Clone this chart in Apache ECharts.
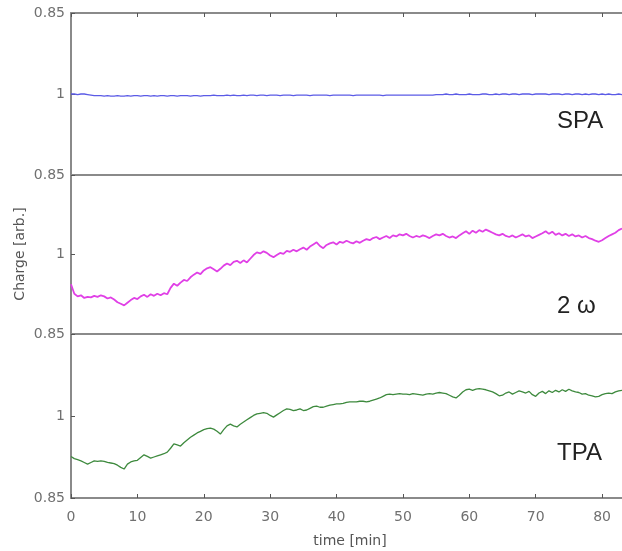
<!DOCTYPE html>
<html><head><meta charset="utf-8">
<script src="https://cdn.jsdelivr.net/npm/echarts@6/dist/echarts.min.js"></script>
<style>html,body{margin:0;padding:0;background:#fff}#c{width:622px;height:551px}</style>
</head><body><div id="c"></div>
<script>
// time [min], step 0.5
var timeStart = 0, timeStep = 0.5;
var xTicks = [0,10,20,30,40,50,60,70,80];
var yTickLabels = {'1':'1','other':'0.85'};
var panelLabels = ['SPA','2 \u03c9','TPA'];

var spa = [
1.000,1.000,0.999,1.000,1.000,0.999,0.998,0.997,0.997,0.997,
0.996,0.997,0.996,0.996,0.997,0.996,0.996,0.997,0.996,0.997,
0.997,0.996,0.997,0.997,0.996,0.997,0.996,0.997,0.997,0.996,
0.997,0.997,0.996,0.997,0.997,0.997,0.996,0.997,0.997,0.996,
0.997,0.997,0.997,0.998,0.997,0.997,0.997,0.998,0.997,0.998,
0.997,0.997,0.998,0.997,0.998,0.998,0.997,0.998,0.998,0.997,
0.998,0.998,0.998,0.997,0.998,0.998,0.998,0.997,0.998,0.998,
0.998,0.998,0.997,0.998,0.998,0.998,0.998,0.998,0.997,0.998,
0.998,0.998,0.998,0.998,0.998,0.997,0.998,0.998,0.998,0.998,
0.998,0.998,0.998,0.998,0.997,0.998,0.998,0.998,0.998,0.998,
0.998,0.998,0.998,0.998,0.998,0.998,0.998,0.998,0.998,0.998,
0.999,0.999,0.999,1.000,0.999,0.999,1.000,0.999,0.999,0.999,
1.000,0.999,0.999,0.999,1.000,1.000,0.999,0.999,1.000,0.999,
1.000,1.000,0.999,1.000,1.000,0.999,1.000,1.000,1.000,0.999,
1.000,1.000,1.000,1.000,0.999,1.000,1.000,1.000,0.999,1.000,
1.000,0.999,1.000,1.000,0.999,1.000,0.999,1.000,1.000,0.999,
1.000,0.999,1.000,0.999,0.999,1.000,0.999
];

var twoOmega = [
0.944,0.926,0.921,0.923,0.918,0.920,0.919,0.922,0.920,0.923,
0.921,0.917,0.919,0.915,0.910,0.907,0.904,0.909,0.914,0.918,
0.916,0.921,0.924,0.920,0.925,0.922,0.926,0.923,0.927,0.925,
0.937,0.945,0.941,0.947,0.952,0.950,0.957,0.962,0.966,0.963,
0.970,0.974,0.976,0.972,0.968,0.973,0.979,0.983,0.980,0.986,
0.988,0.984,0.989,0.985,0.992,0.999,1.004,1.002,1.006,1.003,
0.998,0.995,0.999,1.003,1.001,1.007,1.005,1.009,1.006,1.010,
1.013,1.009,1.015,1.019,1.023,1.016,1.012,1.018,1.021,1.023,
1.019,1.024,1.022,1.026,1.023,1.021,1.025,1.022,1.026,1.029,
1.027,1.031,1.033,1.029,1.032,1.035,1.031,1.036,1.034,1.038,
1.036,1.039,1.035,1.032,1.035,1.033,1.036,1.034,1.031,1.035,
1.038,1.036,1.039,1.035,1.032,1.034,1.031,1.036,1.040,1.044,
1.039,1.045,1.041,1.046,1.043,1.047,1.044,1.041,1.038,1.036,
1.039,1.035,1.033,1.036,1.032,1.035,1.038,1.034,1.036,1.031,
1.034,1.037,1.040,1.044,1.039,1.043,1.037,1.040,1.036,1.039,
1.035,1.038,1.034,1.036,1.032,1.035,1.031,1.029,1.026,1.024,
1.027,1.031,1.035,1.038,1.041,1.046,1.049
];

var tpa = [
0.926,0.922,0.920,0.918,0.915,0.912,0.915,0.918,0.917,0.918,
0.917,0.915,0.914,0.913,0.910,0.906,0.903,0.912,0.916,0.918,
0.919,0.924,0.929,0.926,0.923,0.925,0.927,0.929,0.931,0.934,
0.941,0.949,0.947,0.945,0.951,0.956,0.961,0.965,0.969,0.972,
0.975,0.977,0.978,0.976,0.972,0.967,0.975,0.982,0.985,0.982,
0.980,0.985,0.989,0.993,0.997,1.001,1.004,1.005,1.006,1.005,
1.001,0.998,1.002,1.006,1.010,1.013,1.012,1.010,1.011,1.013,
1.010,1.011,1.014,1.017,1.018,1.016,1.016,1.018,1.020,1.021,
1.022,1.022,1.023,1.025,1.026,1.026,1.026,1.027,1.027,1.026,
1.027,1.029,1.031,1.033,1.036,1.039,1.040,1.039,1.040,1.041,
1.040,1.040,1.039,1.041,1.040,1.039,1.038,1.040,1.041,1.040,
1.042,1.043,1.042,1.041,1.038,1.035,1.033,1.038,1.044,1.048,
1.049,1.047,1.049,1.050,1.049,1.048,1.046,1.044,1.041,1.037,
1.038,1.042,1.044,1.040,1.043,1.046,1.044,1.042,1.045,1.039,
1.036,1.042,1.045,1.041,1.046,1.043,1.047,1.044,1.048,1.045,
1.049,1.046,1.044,1.043,1.040,1.041,1.038,1.037,1.035,1.036,
1.039,1.041,1.042,1.041,1.044,1.046,1.047
];

function pairs(arr){ return arr.map(function(v,i){ return [timeStart + i*timeStep, v]; }); }

var axisGray = '#8a8a8a';
var labelGray = '#707070';
var FONT = 'DejaVu Sans, sans-serif';
var FONT2 = 'Liberation Sans, Arial, sans-serif';
var grids = [
  {left:71, right:0, top:13, height:162},
  {left:71, right:0, top:175, height:159},
  {left:71, right:0, top:334, height:164}
];
function yAx(gi, showMax){
  return {
    type:'value', gridIndex:gi, min:0.85, max:1.15, interval:0.15,
    axisLine:{show:true, lineStyle:{color:axisGray, width:2}},
    axisTick:{show:true, inside:true, length:4, lineStyle:{color:'#555'}},
    splitLine:{show:false},
    axisLabel:{showMaxLabel:showMax, color:labelGray, fontSize:14, fontFamily:FONT, margin:6,
      formatter:function(v){ return Math.abs(v-1)<1e-9 ? yTickLabels['1'] : yTickLabels['other']; }}
  };
}
function xTop(gi, ticks){
  return {
    type:'value', gridIndex:gi, position:'top', min:0, max:83, interval:10,
    axisLine:{show:true, onZero:false, lineStyle:{color:axisGray, width:2}},
    axisTick:{show:ticks, inside:true, length:4, lineStyle:{color:'#555'}},
    axisLabel:{show:false}, splitLine:{show:false}
  };
}
var xAxes = [
  xTop(0,true), xTop(1,false), xTop(2,false),
  {type:'value', gridIndex:2, position:'bottom', min:0, max:83, interval:10,
   axisLine:{show:true, onZero:false, lineStyle:{color:axisGray, width:2}},
   axisTick:{show:true, inside:true, length:4, lineStyle:{color:'#555'}},
   axisLabel:{color:labelGray, fontSize:14, fontFamily:FONT, margin:12, showMaxLabel:false,
     formatter:function(v){ return xTicks.indexOf(v)>=0 ? String(v) : ''; }},
   splitLine:{show:false}}
];

var chart = echarts.init(document.getElementById('c'), null, {renderer:'canvas'});
chart.setOption({
  backgroundColor:'#fff',
  animation:false,
  grid:grids,
  xAxis:xAxes,
  yAxis:[yAx(0,true), yAx(1,false), yAx(2,false)],
  series:[
    {type:'line', xAxisIndex:0, yAxisIndex:0, data:pairs(spa), showSymbol:false,
     lineStyle:{color:'#5b5be6', width:1.3}},
    {type:'line', xAxisIndex:1, yAxisIndex:1, data:pairs(twoOmega), showSymbol:false,
     lineStyle:{color:'#e040e6', width:1.8}},
    {type:'line', xAxisIndex:3, yAxisIndex:2, data:pairs(tpa), showSymbol:false,
     lineStyle:{color:'#3e8a3e', width:1.3}}
  ],
  graphic:[
    {type:'text', left:557, top:109, style:{text:panelLabels[0], font:'24px '+FONT2, fill:'#222'}},
    {type:'text', left:557, top:294, style:{text:panelLabels[1], font:'24px '+FONT2, fill:'#222'}},
    {type:'text', left:557, top:441, style:{text:panelLabels[2], font:'24px '+FONT2, fill:'#222'}},
    {type:'text', x:20, y:254, rotation:Math.PI/2,
     style:{text:'Charge [arb.]', font:'14px '+FONT, fill:'#555', textAlign:'center', textVerticalAlign:'middle'}},
    {type:'text', x:350, y:541,
     style:{text:'time [min]', font:'14px '+FONT, fill:'#555', textAlign:'center', textVerticalAlign:'middle'}}
  ]
});
</script></body></html>
